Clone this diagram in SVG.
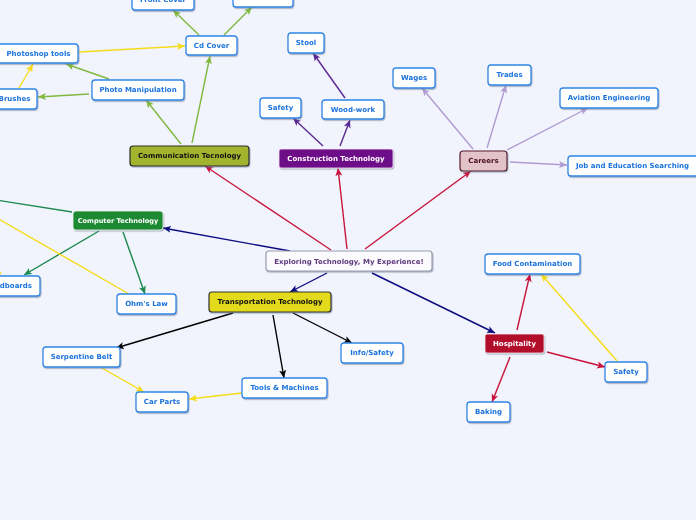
<svg xmlns="http://www.w3.org/2000/svg" width="696" height="520" viewBox="0 0 696 520">
<style>
text{font-family:"DejaVu Sans","Verdana",sans-serif;font-weight:bold;font-size:7px;text-anchor:middle;dominant-baseline:central}
.leaf rect{fill:#ffffff;stroke:#2f86e6;stroke-width:1.3}
.leaf text{fill:#1a72dc}
.c{fill:none;stroke-width:1.4}
</style>
<defs>
<filter id="sh" x="-20%" y="-30%" width="140%" height="170%"><feDropShadow dx="0.8" dy="1.2" stdDeviation="0.6" flood-color="#6a7890" flood-opacity="0.55"/></filter>
<marker id="aR" markerUnits="userSpaceOnUse" markerWidth="9" markerHeight="8" refX="8" refY="4" orient="auto"><path d="M0,0.5 L8,4 L0,7.5 L2,4 z" fill="#c8143c"/></marker>
<marker id="aN" markerUnits="userSpaceOnUse" markerWidth="9" markerHeight="8" refX="8" refY="4" orient="auto"><path d="M0,0.5 L8,4 L0,7.5 L2,4 z" fill="#0c0c80"/></marker>
<marker id="aG" markerUnits="userSpaceOnUse" markerWidth="9" markerHeight="8" refX="8" refY="4" orient="auto"><path d="M0,0.5 L8,4 L0,7.5 L2,4 z" fill="#80b840"/></marker>
<marker id="aY" markerUnits="userSpaceOnUse" markerWidth="9" markerHeight="8" refX="8" refY="4" orient="auto"><path d="M0,0.5 L8,4 L0,7.5 L2,4 z" fill="#f6dc18"/></marker>
<marker id="aP" markerUnits="userSpaceOnUse" markerWidth="9" markerHeight="8" refX="8" refY="4" orient="auto"><path d="M0,0.5 L8,4 L0,7.5 L2,4 z" fill="#5a2890"/></marker>
<marker id="aL" markerUnits="userSpaceOnUse" markerWidth="9" markerHeight="8" refX="8" refY="4" orient="auto"><path d="M0,0.5 L8,4 L0,7.5 L2,4 z" fill="#b09ad2"/></marker>
<marker id="aD" markerUnits="userSpaceOnUse" markerWidth="9" markerHeight="8" refX="8" refY="4" orient="auto"><path d="M0,0.5 L8,4 L0,7.5 L2,4 z" fill="#1e8a50"/></marker>
<marker id="aB" markerUnits="userSpaceOnUse" markerWidth="9" markerHeight="8" refX="8" refY="4" orient="auto"><path d="M0,0.5 L8,4 L0,7.5 L2,4 z" fill="#000000"/></marker>
</defs>
<rect x="0" y="0" width="696" height="520" fill="#f1f4fd"/>
<g id="connectors">
<line class="c" x1="331" y1="250" x2="205" y2="166" stroke="#c8143c" marker-end="url(#aR)"/>
<line class="c" x1="347" y1="249" x2="338" y2="168" stroke="#c8143c" marker-end="url(#aR)"/>
<line class="c" x1="365" y1="249" x2="471" y2="171" stroke="#c8143c" marker-end="url(#aR)"/>
<line class="c" x1="290" y1="251" x2="163" y2="228" stroke="#0c0c80" marker-end="url(#aN)"/>
<line class="c" x1="327" y1="273" x2="290" y2="292" stroke="#0c0c80" marker-end="url(#aN)"/>
<line class="c" x1="372" y1="273" x2="495" y2="333" stroke="#0c0c80" marker-end="url(#aN)"/>
<line class="c" x1="181" y1="144" x2="146" y2="100" stroke="#80b840" marker-end="url(#aG)"/>
<line class="c" x1="192" y1="143" x2="210" y2="56" stroke="#80b840" marker-end="url(#aG)"/>
<line class="c" x1="199" y1="35" x2="173" y2="10" stroke="#80b840" marker-end="url(#aG)"/>
<line class="c" x1="224" y1="35" x2="252" y2="7" stroke="#80b840" marker-end="url(#aG)"/>
<line class="c" x1="109" y1="79" x2="66" y2="64" stroke="#80b840" marker-end="url(#aG)"/>
<line class="c" x1="89" y1="94" x2="38" y2="97" stroke="#80b840" marker-end="url(#aG)"/>
<line class="c" x1="19" y1="88" x2="33" y2="64" stroke="#f6dc18" marker-end="url(#aY)"/>
<line class="c" x1="79" y1="52" x2="185" y2="46" stroke="#f6dc18" marker-end="url(#aY)"/>
<line class="c" x1="323" y1="146" x2="293" y2="118" stroke="#5a2890" marker-end="url(#aP)"/>
<line class="c" x1="340" y1="146" x2="350" y2="120" stroke="#5a2890" marker-end="url(#aP)"/>
<line class="c" x1="345" y1="98" x2="313" y2="53" stroke="#5a2890" marker-end="url(#aP)"/>
<line class="c" x1="473" y1="149" x2="422" y2="88" stroke="#b09ad2" marker-end="url(#aL)"/>
<line class="c" x1="487" y1="148" x2="506" y2="85" stroke="#b09ad2" marker-end="url(#aL)"/>
<line class="c" x1="507" y1="150" x2="588" y2="108" stroke="#b09ad2" marker-end="url(#aL)"/>
<line class="c" x1="510" y1="162" x2="567" y2="165" stroke="#b09ad2" marker-end="url(#aL)"/>
<line class="c" x1="99" y1="231" x2="24" y2="275" stroke="#1e8a50" marker-end="url(#aD)"/>
<line class="c" x1="123" y1="232" x2="145" y2="294" stroke="#1e8a50" marker-end="url(#aD)"/>
<line class="c" x1="72" y1="212" x2="-10" y2="199" stroke="#1e8a50"/>
<line class="c" x1="129" y1="294" x2="-10" y2="214" stroke="#f6dc18"/>
<line class="c" x1="-12" y1="258" x2="1" y2="274" stroke="#f6dc18" marker-end="url(#aY)"/>
<line class="c" x1="233" y1="313" x2="116" y2="348" stroke="#000" marker-end="url(#aB)"/>
<line class="c" x1="273" y1="315" x2="284" y2="378" stroke="#000" marker-end="url(#aB)"/>
<line class="c" x1="293" y1="313" x2="352" y2="343" stroke="#000" marker-end="url(#aB)"/>
<line class="c" x1="102" y1="368" x2="144" y2="392" stroke="#f6dc18" marker-end="url(#aY)"/>
<line class="c" x1="242" y1="393" x2="189" y2="399" stroke="#f6dc18" marker-end="url(#aY)"/>
<line class="c" x1="517" y1="330" x2="530" y2="274" stroke="#c8143c" marker-end="url(#aR)"/>
<line class="c" x1="547" y1="352" x2="605" y2="367" stroke="#c8143c" marker-end="url(#aR)"/>
<line class="c" x1="510" y1="357" x2="492" y2="402" stroke="#c8143c" marker-end="url(#aR)"/>
<line class="c" x1="617" y1="361" x2="541" y2="274" stroke="#f6dc18" marker-end="url(#aY)"/>
</g>
<g id="central" filter="url(#sh)"><rect x="266" y="251" width="166" height="20" rx="3" fill="#fbfbfe" stroke="#9a9cb0" stroke-width="1.2"/><text x="349" y="261.5" fill="#5e3a7e">Exploring Technology, My Experience!</text></g>
<g id="communication" filter="url(#sh)"><rect x="130" y="146" width="119" height="20" rx="3" fill="#a2b42e" stroke="#2a2a2a" stroke-width="1.2"/><text x="189.5" y="156" fill="#111">Communication Tecnology</text></g>
<g id="construction" filter="url(#sh)"><rect x="279" y="149" width="114" height="19" rx="2" fill="#6e0a88" stroke="#f4eef8" stroke-width="0.8"/><text x="336" y="158.5" fill="#fff">Construction Technology</text></g>
<g id="careers" filter="url(#sh)"><rect x="460" y="151" width="47" height="20" rx="3" fill="#e2c3c9" stroke="#5a1a2a" stroke-width="1.2"/><text x="483.5" y="161" fill="#4a1020">Careers</text></g>
<g id="computer" filter="url(#sh)"><rect x="73" y="211" width="90" height="19" rx="3" fill="#1e8a32" stroke="#f0f4f0" stroke-width="0.8"/><text x="118" y="220.5" fill="#fff" style="font-size:6.6px">Computer Technology</text></g>
<g id="transportation" filter="url(#sh)"><rect x="209" y="292" width="122" height="20" rx="3" fill="#e4da1c" stroke="#333" stroke-width="1.2"/><text x="270" y="302" fill="#111">Transportation Technology</text></g>
<g id="hospitality" filter="url(#sh)"><rect x="485" y="334" width="59" height="19" rx="2" fill="#b20c2a" stroke="#f8eef0" stroke-width="0.8"/><text x="514.5" y="343.5" fill="#fff">Hospitality</text></g>
<g id="front-cover" class="leaf" filter="url(#sh)"><rect x="132" y="-10" width="62" height="20" rx="3"/><text x="163" y="0">Front Cover</text></g>
<g id="hidden-box" class="leaf" filter="url(#sh)"><rect x="233" y="-13" width="60" height="20" rx="3"/></g>
<g id="cd-cover" class="leaf" filter="url(#sh)"><rect x="186" y="36" width="51" height="19" rx="3"/><text x="211.5" y="45.5">Cd Cover</text></g>
<g id="photoshop-tools" class="leaf" filter="url(#sh)"><rect x="-3" y="44" width="81" height="19" rx="3"/><text x="38.5" y="53.5">Photoshop tools</text></g>
<g id="brushes" class="leaf" filter="url(#sh)"><rect x="-8" y="89" width="45" height="20" rx="3"/><text x="14.5" y="99">Brushes</text></g>
<g id="photo-manipulation" class="leaf" filter="url(#sh)"><rect x="92" y="80" width="92" height="20" rx="3"/><text x="138" y="90">Photo Manipulation</text></g>
<g id="stool" class="leaf" filter="url(#sh)"><rect x="288" y="33" width="36" height="20" rx="3"/><text x="306" y="43">Stool</text></g>
<g id="safety-construction" class="leaf" filter="url(#sh)"><rect x="260" y="98" width="41" height="20" rx="3"/><text x="280.5" y="108">Safety</text></g>
<g id="wood-work" class="leaf" filter="url(#sh)"><rect x="322" y="100" width="62" height="19" rx="3"/><text x="353" y="109.5">Wood-work</text></g>
<g id="wages" class="leaf" filter="url(#sh)"><rect x="393" y="68" width="42" height="20" rx="3"/><text x="414" y="78">Wages</text></g>
<g id="trades" class="leaf" filter="url(#sh)"><rect x="488" y="65" width="43" height="20" rx="3"/><text x="509.5" y="75">Trades</text></g>
<g id="aviation" class="leaf" filter="url(#sh)"><rect x="560" y="88" width="98" height="20" rx="3"/><text x="609" y="98">Aviation Engineering</text></g>
<g id="job-search" class="leaf" filter="url(#sh)"><rect x="568" y="156" width="132" height="20" rx="3"/><text x="632.5" y="166">Job and Education Searching</text></g>
<g id="breadboards" class="leaf" filter="url(#sh)"><rect x="-30" y="276" width="70" height="20" rx="3"/><text x="32" y="286" style="text-anchor:end">Breadboards</text></g>
<g id="ohms-law" class="leaf" filter="url(#sh)"><rect x="117" y="294" width="59" height="20" rx="3"/><text x="146.5" y="304">Ohm's Law</text></g>
<g id="info-safety" class="leaf" filter="url(#sh)"><rect x="341" y="343" width="62" height="20" rx="3"/><text x="372" y="353">Info/Safety</text></g>
<g id="tools-machines" class="leaf" filter="url(#sh)"><rect x="242" y="378" width="85" height="20" rx="3"/><text x="284.5" y="388">Tools &amp; Machines</text></g>
<g id="serpentine-belt" class="leaf" filter="url(#sh)"><rect x="43" y="347" width="77" height="20" rx="3"/><text x="81.5" y="357">Serpentine Belt</text></g>
<g id="car-parts" class="leaf" filter="url(#sh)"><rect x="136" y="392" width="52" height="20" rx="3"/><text x="162" y="402">Car Parts</text></g>
<g id="food-contamination" class="leaf" filter="url(#sh)"><rect x="485" y="254" width="95" height="20" rx="3"/><text x="532.5" y="264">Food Contamination</text></g>
<g id="safety-hospitality" class="leaf" filter="url(#sh)"><rect x="605" y="362" width="42" height="20" rx="3"/><text x="626" y="372">Safety</text></g>
<g id="baking" class="leaf" filter="url(#sh)"><rect x="467" y="402" width="43" height="20" rx="3"/><text x="488.5" y="412">Baking</text></g>
</svg>
